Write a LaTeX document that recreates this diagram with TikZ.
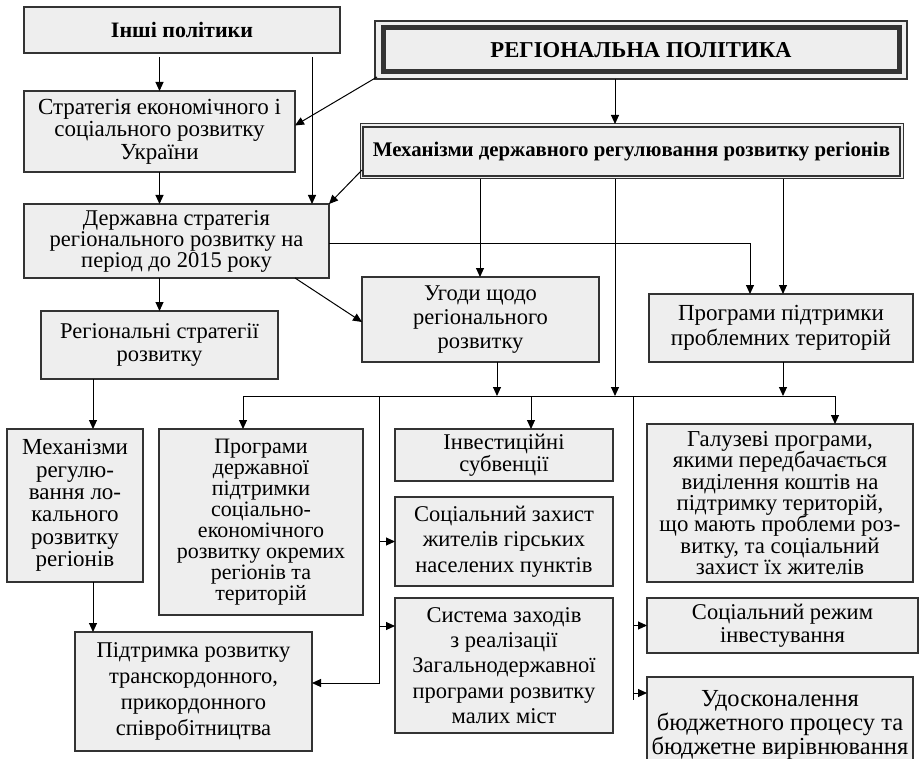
\documentclass[tikz,border=0pt]{standalone}
\usepackage{fontspec}
\setmainfont{Liberation Serif}
\usetikzlibrary{arrows.meta,calc}
\definecolor{boxfill}{HTML}{EEEEEE}
\definecolor{bordc}{HTML}{333333}
\tikzset{
  box/.style={draw=bordc, line width=2.4pt, fill=boxfill, inner sep=0pt, outer sep=0pt, align=center,
    font=\fontsize{22.5}{22}\selectfont},
  fs/.style 2 args={font=\fontsize{#1}{#2}\selectfont},
  fsb/.style 2 args={font=\fontsize{#1}{#2}\selectfont\bfseries},
  arr/.style={-{Triangle[length=9pt,width=8pt]}, line width=1pt, draw=black},
  ln/.style={line width=1pt, draw=black}
}
\newcommand\mybox[7][]{\node[box,#1, minimum width={(#4-#2)*1pt}, minimum height={(#5-#3)*1pt}] (#6) at ({(#2+#4)/2},{(#3+#5)/2}) {#7};}
\begin{document}
\begin{tikzpicture}[x=1pt,y=-1pt]
\useasboundingbox (0,0) rectangle (920,759);
\fill[white] (0,0) rectangle (920,759);
\clip (0,0) rectangle (920,759);
% boxes
\mybox[fsb={22}{22}]{24}{7}{340}{53}{inshi}{Інші політики}
\mybox[draw=bordc, line width=1.2pt, fsb={22.7}{22}]{375}{21}{907}{79}{reg}{РЕГІОНАЛЬНА ПОЛІТИКА}
\draw[line width=5pt, draw=bordc] ([shift={(8pt,-7pt)}]reg.north west) rectangle ([shift={(-8pt,7pt)}]reg.south east);
\mybox[fs={23}{22.5}]{24}{91}{295}{172}{strat}{Стратегія економічного і\\соціального розвитку\\України}
\mybox[line width=1pt, fsb={20.8}{21}]{360}{124}{903}{179}{mech}{Механізми державного регулювання розвитку регіонів}
\draw[line width=2pt, draw=bordc] ([shift={(3.3pt,-3.3pt)}]mech.north west) rectangle ([shift={(-3.3pt,3.3pt)}]mech.south east);
\mybox[fs={22.5}{21}]{24}{204}{329}{278}{derzh}{Державна стратегія\\регіонального розвитку на\\період до 2015 року}
\mybox[fs={22.5}{24}]{362}{277}{599}{362}{ugody}{Угоди щодо\\регіонального\\розвитку}
\mybox[fs={23}{25}]{649}{294}{913}{362}{pidtr}{Програми підтримки\\проблемних територій}
\mybox[fs={22.5}{23.3}]{41}{311}{278}{379}{regstrat}{Регіональні стратегії\\розвитку}
\mybox[fs={23}{22.3}]{7}{429}{143}{582}{mechloc}{Механізми\\регулю-\\вання ло-\\кального\\розвитку\\регіонів}
\mybox[fs={22}{21}]{159}{429}{363}{615}{progderzh}{Програми\\державної\\підтримки\\соціально-\\економічного\\розвитку окремих\\регіонів та\\територій}
\mybox[fs={22.5}{21.7}]{395}{429}{613}{481}{invest}{Інвестиційні\\субвенції}
\mybox[fs={22.5}{25.5}]{395}{497}{613}{586}{soczakh}{Соціальний захист\\жителів гірських\\населених пунктів}
\mybox[fs={22.5}{25.3}]{395}{598}{613}{733}{system}{Система заходів\\з реалізації\\Загальнодержавної\\програми розвитку\\малих міст}
\mybox[fs={22.5}{26}]{75}{632}{312}{751}{pidtrkord}{Підтримка розвитку\\транскордонного,\\прикордонного\\співробітництва}
\mybox[fs={22.8}{21.4}]{647}{424}{913}{582}{galuz}{Галузеві програми,\\якими передбачається\\виділення коштів на\\підтримку територій,\\що мають проблеми роз-\\витку, та соціальний\\захист їх жителів}
\mybox[fs={22.5}{23}]{647}{598}{918}{653}{socrezh}{Соціальний режим\\інвестування}
\mybox[fs={24.5}{24}]{647}{677}{913}{773}{udoskon}{Удосконалення\\бюджетного процесу та\\бюджетне вирівнювання}
% helper coordinates
\coordinate (c312) at (312,0);
\coordinate (c615) at (615,0);
\coordinate (c750) at (750,0);
\coordinate (c783) at (783,0);
\coordinate (c480) at (480,0);
\coordinate (c497) at (497,0);
\coordinate (c531) at (531,0);
\coordinate (c243) at (243,0);
\coordinate (c835) at (835,0);
\coordinate (c379) at (379,0);
\coordinate (c633) at (633,0);
\coordinate (c93) at (93,0);
\coordinate (c295) at (295,0);
\coordinate (bus) at (0,396);
\coordinate (a626) at (0,626);
\coordinate (a693) at (0,693);
\coordinate (a700) at (0,700);
% connectors
\draw[arr, shorten <=4pt] (inshi.south -| strat.north) -- (strat.north);
\draw[arr, shorten <=4pt] (inshi.south -| c312) -- (derzh.north -| c312);
\draw[arr] ([shift={(2pt,2pt)}]reg.south west) -- ([yshift=6pt]strat.east);
\draw[arr] (reg.south -| c615) -- (mech.north -| c615);
\draw[arr] (strat.south -| strat.north) -- (derzh.north -| strat.north);
\draw[arr] ([shift={(2pt,9pt)}]mech.south west) -- (derzh.north east);
\draw[arr] ([yshift=-3pt]derzh.east) -| (pidtr.north -| c750);
\draw[arr] (mech.south -| c480) -- (ugody.north -| c480);
\draw[arr] (mech.south -| c783) -- (pidtr.north -| c783);
\draw[arr] (derzh.south -| c295) -- ([yshift=-2.5pt]ugody.west);
\draw[arr] (derzh.south -| regstrat.north) -- (regstrat.north);
\draw[arr] (mech.south -| c615) -- (bus -| c615);
\draw[arr] (ugody.south -| c497) -- (bus -| c497);
\draw[arr] (pidtr.south -| c783) -- (bus -| c783);
\draw[ln] (bus -| c243) -- (bus -| c835);
\draw[arr] (bus -| c243) -- (progderzh.north -| c243);
\draw[arr] (bus -| c531) -- (invest.north -| c531);
\draw[arr] (bus -| c835) -- (galuz.north -| c835);
\draw[arr] (bus -| c379) |- ([yshift=8.5pt]pidtrkord.east);
\draw[arr] (c379 |- soczakh.west) -- (soczakh.west);
\draw[arr] (c379 |- a626) -- (system.west |- a626);
\draw[ln] (bus -| c633) -- (c633 |- a700);
\draw[arr] (c633 |- socrezh.west) -- (socrezh.west);
\draw[arr] (c633 |- a693) -- (udoskon.west |- a693);
\draw[arr] (regstrat.south -| c93) -- (mechloc.north -| c93);
\draw[arr] (mechloc.south -| c93) -- (pidtrkord.north -| c93);
\end{tikzpicture}
\end{document}
